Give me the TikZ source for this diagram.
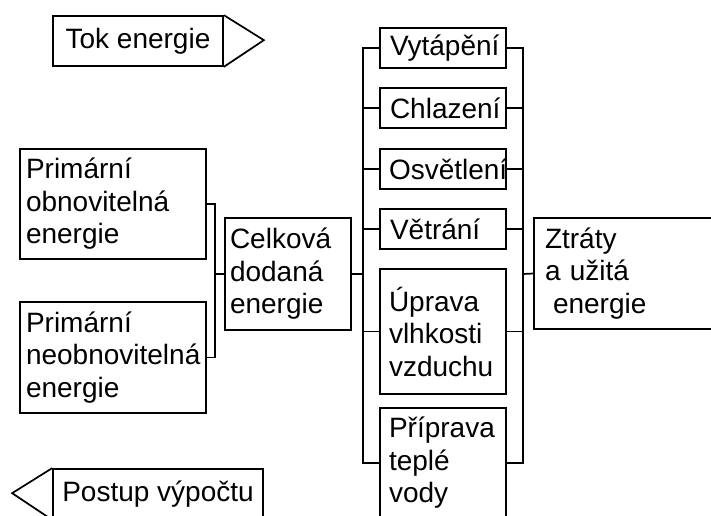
\documentclass[tikz,border=0pt]{standalone}
\usepackage{fontspec}
\setmainfont{Liberation Sans}
\hyphenpenalty=10000
\exhyphenpenalty=10000
\begin{document}
\begin{tikzpicture}[x=1pt,y=-1pt,
  every node/.style={font=\fontsize{28}{32.5}\selectfont},
  ln/.style={line width=1.7pt},
  box/.style={draw,line width=1.7pt,inner ysep=0pt,align=left},
  lbox/.style n args={3}{box,minimum width=#1,minimum height=#2,inner xsep=#3,text width=#1-2*#3},
  cbox/.style 2 args={box,minimum width=#1,minimum height=#2,align=center,inner xsep=0pt}
]
\useasboundingbox (0,0) rectangle (711,515);
\clip (0,0) rectangle (711,515);
% legend
\node[cbox={170}{50}] (tok) at (138,41) {Tok energie};
\draw[ln,line join=miter] (tok.north east) -- ++(40,25) -- (tok.south east);
\node[cbox={210}{50}] (post) at (158,494) {Postup výpočtu};
\draw[ln,line join=miter] (post.north west) -- ++(-40,25) -- (post.south west);
% left column
\node[lbox={186}{110}{6}] (obn) at (113,204) {Primární\\obnovitelná\\energie};
\node[lbox={186}{111}{6}] (neo) at (113,357.5) {Primární\\neobnovitelná\\energie};
\node[lbox={126}{112}{5}] (cel) at (288,274) {Celková\\dodaná\\energie};
% middle column
\node[lbox={126}{40}{10}] (vyt) at (443,48) {Vytápění};
\node[lbox={126}{40}{10}] (chl) at (443,108) {Chlazení};
\node[lbox={126}{40}{9}] (osv) at (443,169) {Osvětlení};
\node[lbox={126}{40}{10}] (vet) at (443,229) {Větrání};
\node[lbox={126}{125}{9}] (upr) at (443,331.5) {Úprava\\vlhkosti\\vzduchu};
\node[lbox={126}{110}{9}] (pri) at (443,463) {Příprava\\teplé\\vody};
% right
\node[lbox={210}{111}{11}] (ztr) at (639,273.5) {Ztráty\\a užitá\\\hspace*{8pt}energie};
% connectors left
\coordinate (j1) at (215,274);
\draw[ln] (obn.east) -| (j1) |- (neo.east);
\draw[ln] (j1) -- (cel.west);
% buses
\coordinate (bl) at (363,274);
\coordinate (br) at (523,274);
\draw[ln] (vyt.west) -| (bl) |- (pri.west);
\draw[ln] (cel.east) -- (bl);
\draw[ln] (chl.west) -- (chl.west -| bl);
\draw[ln] (osv.west) -- (osv.west -| bl);
\draw[ln] (vet.west) -- (vet.west -| bl);
\draw[ln] (upr.west) -- (upr.west -| bl);
\draw[ln] (vyt.east) -| (br) |- (pri.east);
\draw[ln] (br) -- (ztr.west);
\draw[ln] (chl.east) -- (chl.east -| br);
\draw[ln] (osv.east) -- (osv.east -| br);
\draw[ln] (vet.east) -- (vet.east -| br);
\draw[ln] (upr.east) -- (upr.east -| br);
\end{tikzpicture}
\end{document}
